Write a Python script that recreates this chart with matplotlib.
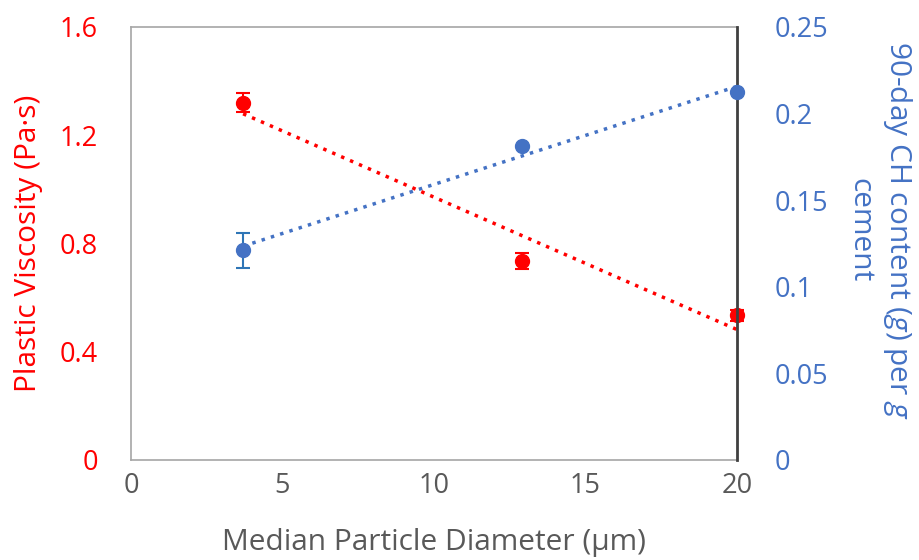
import numpy as np
import matplotlib
matplotlib.use('Agg')
import matplotlib.pyplot as plt

plt.rcParams['font.family'] = ['Open Sans', 'DejaVu Sans']
plt.rcParams['mathtext.fontset'] = 'custom'
plt.rcParams['mathtext.it'] = 'Open Sans:italic'
plt.rcParams['mathtext.rm'] = 'Open Sans'

# dados
diametro = [3.7, 12.9, 20.0]
viscosidade = [1.32, 0.735, 0.535]
visc_erro = [0.035, 0.03, 0.02]
ch = [0.121, 0.181, 0.2125]
ch_erro = [0.010, 0.0, 0.0]

vermelho = '#FF0000'
azul = '#4472C4'
cinza = '#595959'
tam = 19.5
tam_rotulo = 21.5

fig = plt.figure(figsize=(9.2, 5.6), dpi=100)
ax = fig.add_axes([0.1424, 0.1786, 0.6586, 0.7734])
ax2 = ax.twinx()

# viscosidade (eixo esquerdo)
ax.errorbar(diametro, viscosidade, yerr=visc_erro, fmt='o', color=vermelho,
            ms=10, capsize=5, elinewidth=1.5, capthick=1.5, zorder=3, clip_on=False)
a, b = np.polyfit(diametro, viscosidade, 1)
xs = np.array([diametro[0], diametro[-1]])
ax.plot(xs, a * xs + b, linestyle=(0, (1, 1.8)), color=vermelho, lw=2.5)

# teor de CH (eixo direito)
ax2.errorbar(diametro, ch, yerr=ch_erro, fmt='o', color=azul, ecolor='#2E75B6',
             ms=10, capsize=5, elinewidth=1.5, capthick=1.5, zorder=3, clip_on=False)
c, d = np.polyfit(diametro, ch, 1)
ax2.plot(xs, c * xs + d, linestyle=(0, (1, 1.8)), color=azul, lw=2.5)

ax.set_xlim(0, 20)
ax.set_ylim(0, 1.6)
ax2.set_ylim(0, 0.25)
ax.set_xticks([0, 5, 10, 15, 20])
ax.set_yticks([0, 0.4, 0.8, 1.2, 1.6])
ax.set_yticklabels(['0', '0.4', '0.8', '1.2', '1.6'])
ax2.set_yticks([0, 0.05, 0.1, 0.15, 0.2, 0.25])
ax2.set_yticklabels(['0', '0.05', '0.1', '0.15', '0.2', '0.25'])

ax.tick_params(axis='x', length=0, labelsize=tam, labelcolor=cinza, pad=9)
ax.tick_params(axis='y', length=0, labelsize=tam, labelcolor=vermelho, pad=24)
ax2.tick_params(axis='y', length=0, labelsize=tam, labelcolor=azul, pad=27)

for s in ['left', 'top', 'bottom']:
    ax.spines[s].set_color('#A6A6A6')
    ax.spines[s].set_linewidth(1.2)
ax.spines['right'].set_visible(False)
for s in ['left', 'top', 'bottom']:
    ax2.spines[s].set_visible(False)
ax2.spines['right'].set_color('#404040')
ax2.spines['right'].set_linewidth(2)

ax.set_xlabel('Median Particle Diameter (μm)', fontsize=tam_rotulo, color=cinza, va='center')
ax.xaxis.set_label_coords(0.5, -0.19)
ax.set_ylabel('Plastic Viscosity (Pa·s)', fontsize=tam_rotulo, color=vermelho, va='center')
ax.yaxis.set_label_coords(-0.170, 0.50)
ax2.set_ylabel('90-day CH content ($g$) per $g$\ncement', fontsize=tam_rotulo, color=azul,
               rotation=270, va='center', ha='center', linespacing=1.3)
ax2.yaxis.set_label_coords(1.236, 0.53)

fig.savefig('out.png', dpi=100)
